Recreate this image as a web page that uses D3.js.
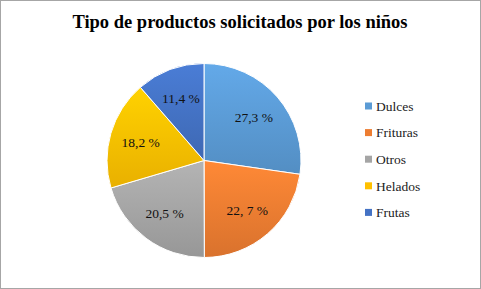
<!DOCTYPE html>
<html>
<head>
<meta charset="utf-8">
<script src="https://cdn.jsdelivr.net/npm/d3@7"></script>
<style>
  body { margin: 0; background: #fff; }
</style>
</head>
<body>
<div id="chart"></div>
<script>
// Data
const categories = ["Dulces", "Frituras", "Otros", "Helados", "Frutas"];
const values = [27.3, 22.7, 20.5, 18.2, 11.4];
const labels = ["27,3 %", "22, 7 %", "20,5 %", "18,2 %", "11,4 %"];
const colors = ["#5B9BD5", "#ED7D31", "#A5A5A5", "#FFC000", "#4472C4"];

const width = 481;
const height = 289;
const serif = "'Liberation Serif', 'Times New Roman', 'DejaVu Serif', serif";

const svg = d3.select("#chart").append("svg")
  .attr("width", width)
  .attr("height", height)
  .attr("font-family", serif);

// chart frame
svg.append("rect")
  .attr("x", 0.5).attr("y", 0.5)
  .attr("width", width - 1).attr("height", height - 1)
  .attr("fill", "#fff")
  .attr("stroke", "#a6a6a6");

// title
svg.append("text")
  .attr("x", 240)
  .attr("y", 28)
  .attr("text-anchor", "middle")
  .attr("font-family", serif)
  .attr("font-size", 18.5)
  .attr("font-weight", "bold")
  .text("Tipo de productos solicitados por los niños");

// gradients per slice
const defs = svg.append("defs");
colors.forEach((c, i) => {
  const g = defs.append("linearGradient")
    .attr("id", "grad" + i)
    .attr("x1", 0).attr("y1", 0).attr("x2", 0).attr("y2", 1);
  g.append("stop").attr("offset", "0%").attr("stop-color", d3.color(c).brighter(0.25));
  g.append("stop").attr("offset", "100%").attr("stop-color", d3.color(c).darker(0.25));
});

const cx = 204, cy = 160.5, r = 97;

const pie = d3.pie().sort(null).value(d => d);
const arcs = pie(values);

const arc = d3.arc().innerRadius(0).outerRadius(r);
const labelArc = d3.arc().innerRadius(r * 0.68).outerRadius(r * 0.68);

const g = svg.append("g").attr("transform", `translate(${cx},${cy})`);

g.selectAll("path")
  .data(arcs)
  .enter()
  .append("path")
  .attr("d", arc)
  .attr("fill", (d, i) => `url(#grad${i})`)
  .attr("stroke", "#fff")
  .attr("stroke-width", 1);

g.selectAll("text.lbl")
  .data(arcs)
  .enter()
  .append("text")
  .attr("class", "lbl")
  .attr("transform", d => `translate(${labelArc.centroid(d)})`)
  .attr("text-anchor", "middle")
  .attr("dy", "0.35em")
  .attr("font-family", serif)
  .attr("font-size", 13.5)
  .attr("fill", "#111")
  .text((d, i) => labels[i]);

// legend
const legend = svg.append("g").attr("transform", "translate(365,106)");
const row = legend.selectAll("g")
  .data(categories)
  .enter()
  .append("g")
  .attr("transform", (d, i) => `translate(0,${i * 26.6})`);

row.append("rect")
  .attr("x", 0).attr("y", -3.5)
  .attr("width", 7).attr("height", 7)
  .attr("fill", (d, i) => colors[i]);

row.append("text")
  .attr("x", 11)
  .attr("dy", "0.35em")
  .attr("font-family", serif)
  .attr("font-size", 13.5)
  .attr("fill", "#222")
  .text(d => d);
</script>
</body>
</html>
